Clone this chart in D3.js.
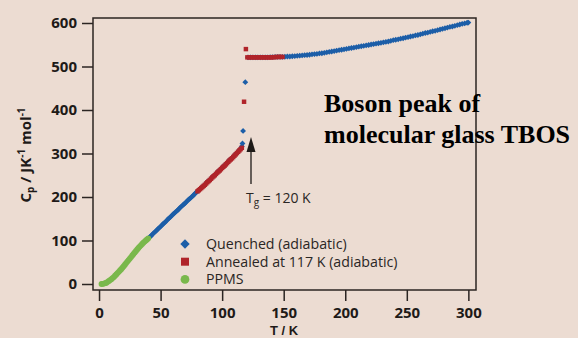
<!DOCTYPE html>
<html>
<head>
<meta charset="utf-8">
<script src="https://cdn.jsdelivr.net/npm/d3@7"></script>
<style>
  html, body { margin: 0; padding: 0; background: #ecdcd2; }
  svg { display: block; }
</style>
</head>
<body>
<div id="viz"></div>
<script>
// PPMS (green)
const tPpms = [2, 3, 4, 5, 6, 7, 8, 9, 10, 11, 12, 13, 14, 15, 16, 17, 18, 19, 20, 21, 22, 23, 24, 25, 26, 27, 28, 29, 30,
  31, 32, 33, 34, 35, 36, 37, 38, 39, 40];
const cpPpms = [0, 0.5, 1, 2, 3, 5, 7, 9, 11, 13.5, 16, 19, 22, 25, 28, 31, 34, 37.5, 41, 44.5, 48, 51.5, 55, 58.5, 62, 65.5, 69, 72.5, 76,
  79.5, 83, 86, 89, 92, 95, 97.5, 100, 102.5, 105];

// Quenched (adiabatic) - blue
const tQuench = [
  40, 41, 42, 43, 44, 45, 46, 47, 48, 49,
  50, 51, 52, 53, 54, 55, 56, 57, 58, 59,
  60, 61, 62, 63, 64, 65, 66, 67, 68, 69,
  70, 71, 72, 73, 74, 75, 76, 77, 78, 79, 80,
  82, 84, 86, 88, 90, 92, 94, 96, 98, 100, 102, 104, 106, 108, 110, 112, 114, 116,
  116.5, 117, 118.8,
  121, 123, 125, 127, 129, 131, 133, 135, 137, 139,
  141, 143, 145, 147, 149, 151, 153, 155, 157, 159,
  161, 163, 165, 167, 169, 171, 173, 175, 177, 179,
  181, 183, 185, 187, 189, 191, 193, 195, 197, 199,
  201, 203, 205, 207, 209, 211, 213, 215, 217, 219,
  221, 223, 225, 227, 229, 231, 233, 235, 237, 239,
  241, 243, 245, 247, 249, 251, 253, 255, 257, 259,
  261, 263, 265, 267, 269, 271, 273, 275, 277, 279,
  281, 283, 285, 287, 289, 291, 293, 295, 297, 299, 300];
const cpQuench = [
  105, 107.5, 110, 113, 116, 118.5, 121, 124, 127, 129.5,
  132, 135, 138, 140.5, 143, 146, 149, 151.5, 154, 157,
  160, 162.5, 165, 167.5, 170, 173, 176, 178.5, 181, 183.5,
  186, 189, 192, 194.5, 197, 199.5, 202, 205, 208, 210.5, 213,
  218, 224, 229, 235, 240, 246, 251, 257, 262, 268, 273, 279, 285, 290, 296, 302, 308, 316,
  323, 352, 464,
  521, 521, 521, 521, 521, 521, 521, 521, 521, 521.5,
  521.5, 522, 522, 522, 522, 522.5, 523, 523, 523.5, 524,
  524.5, 525, 525.5, 526, 526.5, 527, 528, 528.5, 529, 530,
  530.5, 531.5, 532.5, 533.5, 534.5, 535.5, 536.5, 537.5, 538.5, 539.5,
  540.5, 541.5, 542.5, 543.5, 544.5, 545.5, 546.5, 547.5, 548.5, 549.5,
  550.5, 551.5, 552.5, 553.5, 554.5, 555.5, 556.5, 557.5, 559, 560.5,
  561.5, 562.5, 564, 565, 566.5, 567.5, 569, 570, 571.5, 572.5,
  574, 575.5, 577, 578, 579.5, 581, 582, 583.5, 585, 586.5,
  588, 589.5, 591, 592, 593.5, 595, 596.5, 598, 599, 600.5, 601];

// Annealed at 117 K (adiabatic) - red
const tAnneal = [
  80, 81, 82, 83, 84, 85, 86, 87, 88, 89,
  90, 91, 92, 93, 94, 95, 96, 97, 98, 99,
  100, 101, 102, 103, 104, 105, 106, 107, 108, 109,
  110, 111, 112, 113, 114, 115, 116,
  117.8, 119.3,
  120.5, 122, 123.5, 125, 126.5, 128, 129.5, 131, 132.5, 134,
  135.5, 137, 138.5, 140, 141.5, 143, 144.5, 146, 147.5, 149];
const cpAnneal = [
  213, 215.5, 218, 220.5, 223, 225.5, 228, 231, 234, 236.5,
  239, 242, 245, 247.5, 250, 253, 256, 258.5, 261, 264,
  267, 269.5, 272, 275, 278, 281, 284, 286.5, 289, 292,
  295, 298, 301, 304, 307, 310, 313,
  419, 540,
  521, 521, 521, 521, 521, 521, 521, 521, 521, 521,
  521, 521, 521, 521, 521.5, 521.5, 522, 522, 522, 522];

const yTicks = [0, 100, 200, 300, 400, 500, 600];
const xTicks = [0, 50, 100, 150, 200, 250, 300];

const legendItems = ['Quenched (adiabatic)', 'Annealed at 117 K (adiabatic)', 'PPMS'];

const blue = '#1c5ea8', red = '#b0242a', green = '#7ab84c';
const ink = '#1e1a18';

const svg = d3.select('#viz')
    .append('svg')
    .attr('width', 578)
    .attr('height', 338);

svg.append('rect').attr('width', 578).attr('height', 338).attr('fill', '#ecdcd2');

const x = d3.scaleLinear().domain([-4.9, 306.2]).range([93, 476]);
const y = d3.scaleLinear().domain([-13.8, 611.5]).range([290, 18]);

// frame
svg.append('rect')
    .attr('x', 93).attr('y', 18)
    .attr('width', 476 - 93).attr('height', 290 - 18)
    .attr('fill', 'none')
    .attr('stroke', '#2b2522')
    .attr('stroke-width', 1.5);

const yAxis = svg.append('g')
    .attr('transform', 'translate(93,0)')
    .call(d3.axisLeft(y).tickValues(yTicks).tickSize(11).tickPadding(5));
const xAxis = svg.append('g')
    .attr('transform', 'translate(0,290)')
    .call(d3.axisBottom(x).tickValues(xTicks).tickSize(11).tickPadding(6));

[yAxis, xAxis].forEach(function(a) {
    a.select('.domain').remove();
    a.selectAll('line').attr('stroke', '#2b2522').attr('stroke-width', 1.5);
    a.selectAll('text')
        .attr('fill', ink)
        .style('font-family', '"Open Sans", sans-serif')
        .style('font-weight', 'bold')
        .style('font-size', '15px');
});

// data points
const quench = tQuench.map(function(t, i) { return [t, cpQuench[i]]; });
const anneal = tAnneal.map(function(t, i) { return [t, cpAnneal[i]]; });
const ppms = tPpms.map(function(t, i) { return [t, cpPpms[i]]; });

// diamonds = squares turned 45 degrees
svg.append('g').selectAll('path')
    .data(quench)
    .enter().append('path')
    .attr('d', d3.symbol(d3.symbolSquare, 17))
    .attr('transform', function(d) { return 'translate(' + x(d[0]) + ',' + y(d[1]) + ') rotate(45)'; })
    .attr('fill', blue);

svg.append('g').selectAll('path')
    .data(anneal)
    .enter().append('path')
    .attr('d', d3.symbol(d3.symbolSquare, 20))
    .attr('transform', function(d) { return 'translate(' + x(d[0]) + ',' + y(d[1]) + ')'; })
    .attr('fill', red);

svg.append('g').selectAll('circle')
    .data(ppms)
    .enter().append('circle')
    .attr('cx', function(d) { return x(d[0]); })
    .attr('cy', function(d) { return y(d[1]); })
    .attr('r', 2.9)
    .attr('fill', green);

// legend
const legend = svg.append('g').attr('transform', 'translate(185,244)');
const legendSymbols = [
    d3.symbol(d3.symbolSquare, 44)(),
    d3.symbol(d3.symbolSquare, 64)(),
    d3.symbol(d3.symbolCircle, 60)()
];
const legendColors = [blue, red, green];
legendItems.forEach(function(label, i) {
    legend.append('path')
        .attr('d', legendSymbols[i])
        .attr('transform', 'translate(0,' + (i * 17.7) + ')' + (i === 0 ? ' rotate(45)' : ''))
        .attr('fill', legendColors[i]);
    legend.append('text')
        .attr('x', 21)
        .attr('y', i * 17.7 + 5)
        .attr('fill', '#2a2624')
        .style('font-family', '"Open Sans", sans-serif')
        .style('font-size', '14.2px')
        .text(label);
});

// Tg annotation
const tgX = 251;
svg.append('line')
    .attr('x1', tgX).attr('x2', tgX)
    .attr('y1', 184).attr('y2', 148)
    .attr('stroke', ink).attr('stroke-width', 1.3);
svg.append('path')
    .attr('d', 'M' + tgX + ',137 L' + (tgX - 4.5) + ',152 L' + (tgX + 4.5) + ',152 Z')
    .attr('fill', ink);
const tgText = svg.append('text')
    .attr('x', 246).attr('y', 203)
    .attr('fill', '#2a2624')
    .style('font-family', '"Open Sans", sans-serif')
    .style('font-size', '14px');
tgText.append('tspan').text('T');
tgText.append('tspan').attr('dy', 3).style('font-size', '10px').text('g');
tgText.append('tspan').attr('dy', -3).text(' = 120 K');

// axis titles
svg.append('text')
    .attr('x', 284).attr('y', 334.5)
    .attr('text-anchor', 'middle')
    .attr('fill', ink)
    .style('font-family', '"Liberation Sans", sans-serif')
    .style('font-weight', 'bold')
    .style('font-size', '13px')
    .text('T / K');

const yTitle = svg.append('text')
    .attr('transform', 'translate(31,155) rotate(-90)')
    .attr('text-anchor', 'middle')
    .attr('fill', ink)
    .style('font-family', '"Open Sans", sans-serif')
    .style('font-weight', 'bold')
    .style('font-size', '15px');
yTitle.append('tspan').text('C');
yTitle.append('tspan').attr('dy', 3).style('font-size', '10px').text('p');
yTitle.append('tspan').attr('dy', -3).text(' / JK');
yTitle.append('tspan').attr('dy', -6).style('font-size', '10px').text('-1');
yTitle.append('tspan').attr('dy', 6).text(' mol');
yTitle.append('tspan').attr('dy', -6).style('font-size', '10px').text('-1');

// overlay caption
const caption = svg.append('text')
    .attr('fill', '#000')
    .style('font-family', '"Liberation Serif", "Times New Roman", serif')
    .style('font-weight', 'bold')
    .style('font-size', '26px');
caption.append('tspan').attr('x', 324).attr('y', 111.5).text('Boson peak of');
caption.append('tspan').attr('x', 324).attr('y', 143).text('molecular glass TBOS');
</script>
</body>
</html>
